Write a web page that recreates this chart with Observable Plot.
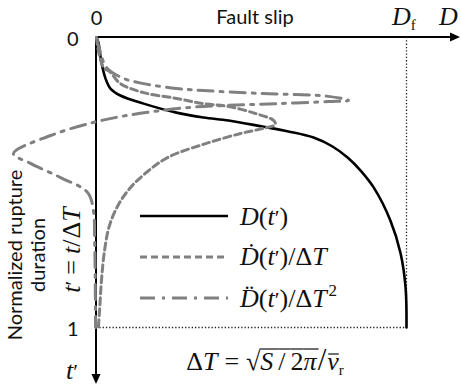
<!DOCTYPE html>
<html>
<head>
<meta charset="utf-8">
<script src="https://cdn.jsdelivr.net/npm/d3@7"></script>
<script src="https://cdn.jsdelivr.net/npm/@observablehq/plot@0.6"></script>
<style>
  body { margin: 0; background: #fff; }
  svg { display: block; }
</style>
</head>
<body>
<script>
// Slip history over one rupture: normalized time t' = t/ΔT (0 at top, 1 at bottom),
// slip and its derivatives expressed as fractions of the final slip Df.

// D(t')
const slipT = [0, 0.017, 0.086, 0.141, 0.176, 0.200, 0.228, 0.259, 0.276, 0.286, 0.307, 0.324, 0.345, 0.375, 0.414, 0.459, 0.517, 0.631, 0.745, 0.862, 1.0];
const slipV = [0, 0.006, 0.016, 0.029, 0.045, 0.077, 0.152, 0.258, 0.345, 0.426, 0.535, 0.619, 0.700, 0.760, 0.810, 0.852, 0.894, 0.948, 0.981, 0.997, 1.0];

// Ḋ(t')/ΔT
const rateT = [0, 0.045, 0.103, 0.120, 0.159, 0.190, 0.210, 0.228, 0.238, 0.262, 0.286, 0.300, 0.314, 0.331, 0.366, 0.414, 0.462, 0.517, 0.576, 0.648, 0.734, 0.838, 0.941, 1.0];
const rateV = [0, 0.006, 0.023, 0.045, 0.077, 0.152, 0.258, 0.345, 0.426, 0.513, 0.571, 0.577, 0.535, 0.465, 0.352, 0.229, 0.165, 0.110, 0.071, 0.042, 0.026, 0.016, 0.010, 0.006];

// D̈(t')/ΔT²
const accT = [0, 0.052, 0.103, 0.141, 0.159, 0.176, 0.183, 0.193, 0.203, 0.217, 0.221, 0.228, 0.234, 0.240, 0.252, 0.269, 0.293, 0.338, 0.400, 0.434, 0.483, 0.534, 0.597, 0.700, 0.850, 1.0];
const accV = [0, 0.013, 0.032, 0.087, 0.152, 0.258, 0.345, 0.535, 0.748, 0.813, 0.748, 0.587, 0.426, 0.313, 0.206, 0.097, -0.010, -0.148, -0.268, -0.213, -0.116, -0.029, -0.010, -0.006, -0.004, -0.003];

// Axis tick labels
const timeTicks = [0, 1];
const slipTicks = [0];

const series = [
  {name: "D", t: slipT, v: slipV, stroke: "#000", width: 2.6, dash: null},
  {name: "rate", t: rateT, v: rateV, stroke: "#808080", width: 3, dash: "7,4"},
  {name: "acc", t: accT, v: accV, stroke: "#808080", width: 3, dash: "15,7,3,7"}
];
const toRows = s => s.t.map((t, i) => ({t, v: s.v[i]}));

const sans = "Lato, 'Open Sans', sans-serif";
const serif = "'Liberation Serif', 'DejaVu Serif', serif";

const chart = Plot.plot({
  width: 461,
  height: 385,
  marginTop: 37,
  marginLeft: 96,
  marginRight: 55,
  marginBottom: 58,
  x: {domain: [0, 1], axis: null},
  y: {domain: [0, 1], reverse: true, axis: null},
  style: {fontFamily: sans, background: "#fff", overflow: "visible"},
  marks: [
    // final-slip and end-of-rupture guides
    Plot.ruleX([1], {y1: 0, y2: 1, stroke: "#222", strokeWidth: 1.3, strokeDasharray: "1.3,2"}),
    Plot.ruleY([1], {x1: 0, x2: 1, stroke: "#222", strokeWidth: 1.3, strokeDasharray: "1.3,2"}),
    ...series.map(s => Plot.line(toRows(s), {
      x: "v", y: "t", curve: "catmull-rom",
      stroke: s.stroke, strokeWidth: s.width, strokeDasharray: s.dash
    })),
    Plot.axisY(timeTicks, {anchor: "left", label: null, tickFormat: d3.format("d"),
      tickSize: 0, tickPadding: 18, fontSize: 20, fill: "#111", dy: 2}),
    Plot.axisX(slipTicks, {anchor: "top", label: null, tickFormat: d3.format("d"),
      tickSize: 0, tickPadding: 13, fontSize: 20, fill: "#111"})
  ]
});
document.body.append(chart);

const svg = d3.select(chart);
const sx = chart.scale("x"), sy = chart.scale("y");
const X = sx.apply ? v => sx.apply(v) : d3.scaleLinear(sx.domain, sx.range);
const Y = sy.apply ? v => sy.apply(v) : d3.scaleLinear(sy.domain, sy.range);
const W = 461, H = 385;

// Coordinate axes with arrow heads
const axes = svg.insert("g", "g");
axes.append("line").attr("x1", X(0)).attr("x2", W - 6).attr("y1", Y(0)).attr("y2", Y(0))
  .attr("stroke", "#000").attr("stroke-width", 2);
axes.append("path").attr("d", `M${W - 1},${Y(0)} L${W - 11},${Y(0) - 4.5} L${W - 11},${Y(0) + 4.5}Z`).attr("fill", "#000");
axes.append("line").attr("x1", X(0)).attr("x2", X(0)).attr("y1", Y(0)).attr("y2", H - 6)
  .attr("stroke", "#000").attr("stroke-width", 2);
axes.append("path").attr("d", `M${X(0)},${H - 1} L${X(0) - 4.5},${H - 11} L${X(0) + 4.5},${H - 11}Z`).attr("fill", "#000");

// Row of math pieces laid out left to right, each measured after it is placed.
function mathRow(x, y, pieces, {anchor = "start", rotate = 0} = {}) {
  const g = svg.append("g");
  const inner = g.append("g").attr("text-anchor", "start");
  let cx = 0;
  for (const p of pieces) {
    const size = p.size || 26;
    const x0 = cx + (p.dx || 0);
    const t = inner.append("text")
      .attr("x", x0).attr("y", p.dy || 0)
      .attr("text-anchor", "start")
      .attr("font-family", p.sans ? sans : serif)
      .attr("font-style", p.italic ? "italic" : "normal")
      .attr("font-size", size).attr("fill", "#111")
      .text(p.text);
    const w = t.node().getComputedTextLength();
    if (p.bar) {
      inner.append("line")
        .attr("x1", x0 + (p.bar.x0 || 0)).attr("x2", x0 + w + (p.bar.x1 || 0))
        .attr("y1", p.bar.y).attr("y2", p.bar.y)
        .attr("stroke", "#111").attr("stroke-width", p.bar.w || 1.2);
    }
    cx = x0 + w + (p.gap || 0);
  }
  const shift = anchor === "middle" ? -cx / 2 : anchor === "end" ? -cx : 0;
  inner.attr("transform", `translate(${shift},0)`);
  g.attr("transform", `translate(${x},${y}) rotate(${rotate})`);
  return g;
}

// Top axis: title and slip marks
svg.append("text").attr("x", 255).attr("y", Y(0) - 13).attr("text-anchor", "middle")
  .attr("font-family", sans).attr("font-size", 20).attr("fill", "#111").text("Fault slip");
mathRow(X(1) - 14, Y(0) - 12, [
  {text: "D", italic: true, size: 26, gap: 0},
  {text: "f", size: 15, dy: 5}
]);
mathRow(X(1) + 33, Y(0) - 12, [{text: "D", italic: true, size: 26}]);

// Left axis: t' label below the ruler end
mathRow(X(0) - 24, Y(1) + 52, [
  {text: "t", italic: true, size: 26},
  {text: "′", size: 22}
], {anchor: "middle"});

// Left axis title
const ytitle = svg.append("g").attr("font-family", sans).attr("font-size", 20).attr("fill", "#111")
  .attr("text-anchor", "middle");
ytitle.append("text").attr("transform", "translate(22,255) rotate(-90)").text("Normalized rupture");
ytitle.append("text").attr("transform", "translate(45,255) rotate(-90)").text("duration");
mathRow(80, 250, [
  {text: "t", italic: true},
  {text: "′", size: 22, gap: 6},
  {text: "=", gap: 6},
  {text: "t", italic: true},
  {text: "/", gap: 1},
  {text: "Δ"},
  {text: "T", italic: true}
], {anchor: "middle", rotate: -90});

// Legend
const legendX0 = 140, legendX1 = 228;
const legendRows = [
  {y: 216, base: 225, s: series[0], label: [
    {text: "D", italic: true}, {text: "("}, {text: "t", italic: true}, {text: "′", size: 22}, {text: ")"}
  ]},
  {y: 257, base: 265, s: series[1], label: [
    {text: "D\u0307", italic: true}, {text: "("}, {text: "t", italic: true}, {text: "′", size: 22}, {text: ")"},
    {text: "/"}, {text: "Δ"}, {text: "T", italic: true}
  ]},
  {y: 298, base: 307, s: series[2], label: [
    {text: "D\u0308", italic: true}, {text: "("}, {text: "t", italic: true}, {text: "′", size: 22}, {text: ")"},
    {text: "/"}, {text: "Δ"}, {text: "T", italic: true, gap: 2}, {text: "2", size: 17, dy: -11}
  ]}
];
for (const r of legendRows) {
  svg.append("line").attr("x1", legendX0).attr("x2", legendX1).attr("y1", r.y).attr("y2", r.y)
    .attr("stroke", r.s.stroke).attr("stroke-width", r.s.width).attr("stroke-dasharray", r.s.dash);
  mathRow(legendX1 + 12, r.base, r.label);
}

// Rise-time definition under the plot
mathRow(265, 370, [
  {text: "Δ", size: 26},
  {text: "T", italic: true, size: 26, gap: 7},
  {text: "=", size: 26, gap: 7},
  {text: "√", size: 26, gap: 0},
  {text: "S", italic: true, size: 26, gap: 5, bar: {y: -21, x0: -1, x1: 5}},
  {text: "/", size: 26, gap: 5, bar: {y: -21, x1: 5}},
  {text: "2", size: 26, bar: {y: -21}},
  {text: "π", italic: true, size: 26, bar: {y: -21, x1: 2}, gap: 1},
  {text: "/", size: 31, gap: 1},
  {text: "v", italic: true, size: 26, bar: {y: -16, x0: 1, x1: 0}},
  {text: "r", size: 15, dy: 5}
], {anchor: "middle"});
</script>
</body>
</html>
